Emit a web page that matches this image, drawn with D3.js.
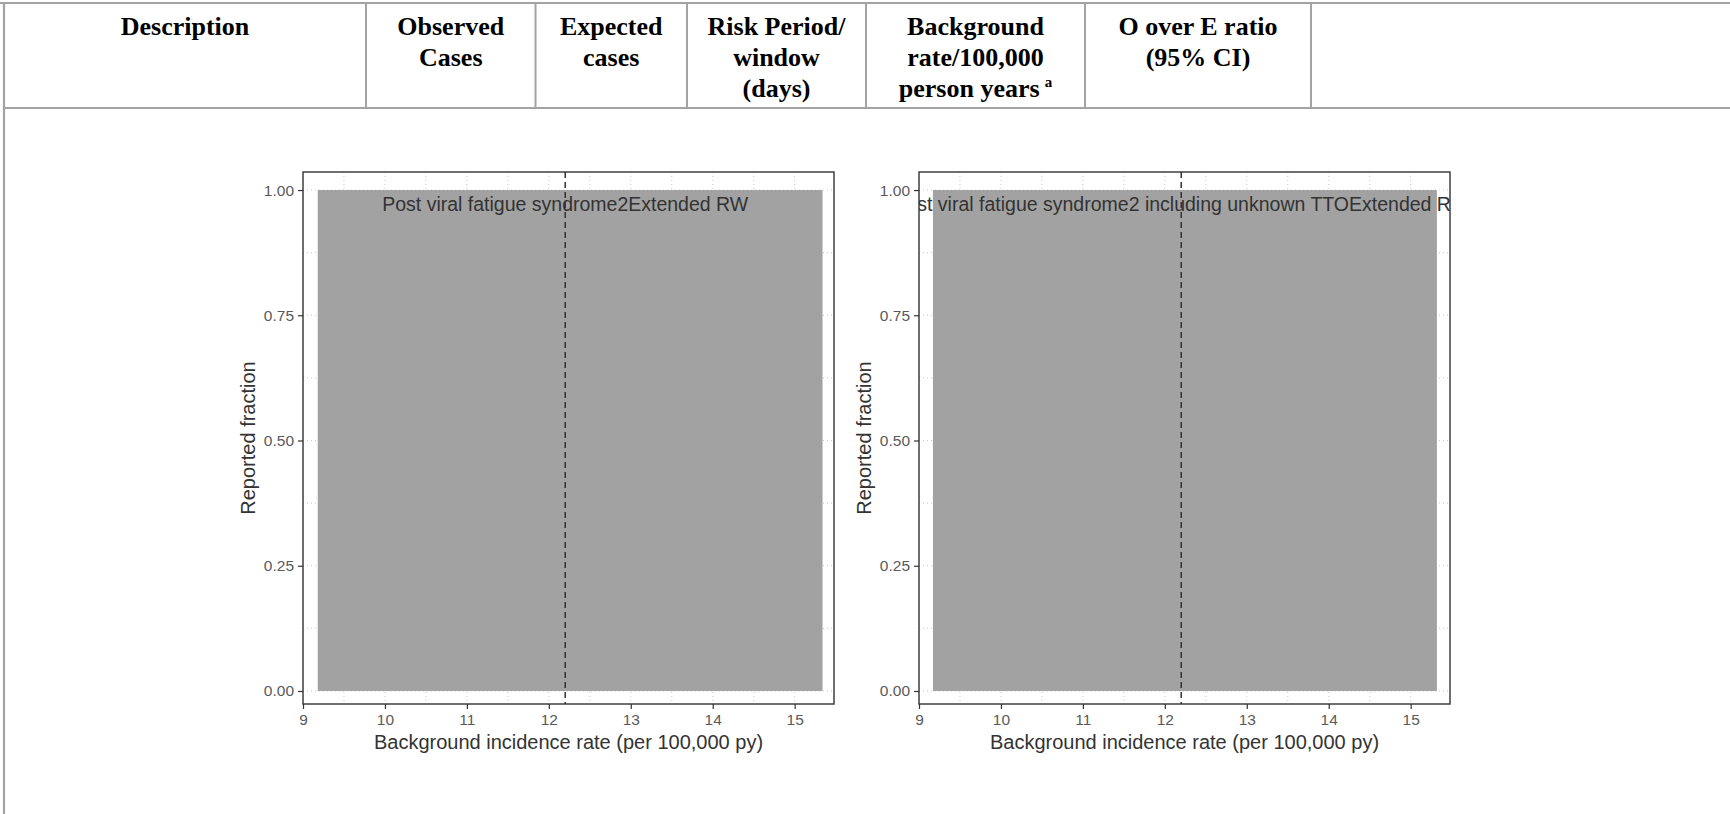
<!DOCTYPE html>
<html>
<head>
<meta charset="utf-8">
<script src="https://cdn.jsdelivr.net/npm/d3@7"></script>
<style>
  html, body { margin: 0; padding: 0; background: #fff; }
  svg { display: block; }
</style>
</head>
<body>
<svg id="chart" width="1730" height="814"></svg>
<script>
// ---- Data ----
const headerColumns = ["Description", "Observed Cases", "Expected cases", "Risk Period/ window (days)", "Background rate/100,000 person years", "O over E ratio (95% CI)", ""];
const headerLines = [
  ["Description"],
  ["Observed", "Cases"],
  ["Expected", "cases"],
  ["Risk Period/", "window", "(days)"],
  ["Background", "rate/100,000", "person years"],
  ["O over E ratio", "(95% CI)"],
  []
];
const panelTitles = ["Post viral fatigue syndrome2Extended RW", "Post viral fatigue syndrome2 including unknown TTOExtended RW"];
const rateMin = [9.18, 9.17];       // background incidence rate range (per 100,000 py)
const rateMax = [15.34, 15.32];
const fractionMin = [0, 0];         // reported fraction range
const fractionMax = [1, 1];
const observedRate = [12.2, 12.2];  // dashed reference line
const xTicks = [9, 10, 11, 12, 13, 14, 15];
const xTickLabels = ["9", "10", "11", "12", "13", "14", "15"];
const yTicks = [0, 0.25, 0.5, 0.75, 1];
const yTickLabels = ["0.00", "0.25", "0.50", "0.75", "1.00"];
const xTitle = "Background incidence rate (per 100,000 py)";
const yTitle = "Reported fraction";

// ---- Layout ----
const svg = d3.select("#chart");
const W = 1730, H = 814;
const colEdges = [4, 366, 535.5, 687, 866, 1085, 1311, 1730];
const tableTop = 3, headerBottom = 108;
const lineColor = "#a3a3a3";

// Table lines
const tbl = svg.append("g");
tbl.append("line").attr("x1", 0).attr("x2", W).attr("y1", tableTop).attr("y2", tableTop)
  .attr("stroke", lineColor).attr("stroke-width", 2.2);
tbl.append("line").attr("x1", colEdges[0]).attr("x2", W).attr("y1", headerBottom).attr("y2", headerBottom)
  .attr("stroke", lineColor).attr("stroke-width", 2.2);
tbl.append("line").attr("x1", colEdges[0]).attr("x2", colEdges[0]).attr("y1", tableTop).attr("y2", H)
  .attr("stroke", lineColor).attr("stroke-width", 2.2);
colEdges.slice(1, 7).forEach(x => {
  tbl.append("line").attr("x1", x).attr("x2", x).attr("y1", tableTop).attr("y2", headerBottom)
    .attr("stroke", lineColor).attr("stroke-width", 2);
});

// Header texts
headerLines.forEach((lines, i) => {
  const cx = (colEdges[i] + colEdges[i + 1]) / 2;
  lines.forEach((ln, j) => {
    const t = tbl.append("text")
      .attr("x", cx).attr("y", 35 + j * 31)
      .attr("text-anchor", "middle")
      .attr("font-family", "'Liberation Serif', 'Times New Roman', serif")
      .attr("font-weight", "bold")
      .attr("font-size", 26)
      .attr("fill", "#000")
      .text(ln);
    if (i === 4 && j === 2) {
      t.append("tspan").attr("dx", 5).attr("dy", -10).attr("font-size", 15).text("a");
    }
  });
});

// ---- Panels ----
const panelLeft = [303, 919];
const panelWidth = 531;
const panelTop = 172, panelBottom = 704;
const y = d3.scaleLinear().domain([-0.026, 1.036]).range([panelBottom, panelTop]);

panelTitles.forEach((title, p) => {
  const x = d3.scaleLinear().domain([9, 15.48]).range([panelLeft[p], panelLeft[p] + panelWidth]);
  const g = svg.append("g");
  const clipId = "clip" + p;
  svg.append("clipPath").attr("id", clipId).append("rect")
    .attr("x", panelLeft[p]).attr("y", panelTop).attr("width", panelWidth).attr("height", panelBottom - panelTop);

  // grid (major + minor), dotted
  const xMinor = d3.range(9.5, 15.5, 1);
  const yMinor = [0.125, 0.375, 0.625, 0.875];
  const grid = g.append("g").attr("clip-path", `url(#${clipId})`);
  xTicks.concat(xMinor).forEach(v => {
    grid.append("line").attr("x1", x(v)).attr("x2", x(v)).attr("y1", panelTop).attr("y2", panelBottom)
      .attr("stroke", "#c8c8c8").attr("stroke-width", 1).attr("stroke-dasharray", "1,3");
  });
  yTicks.concat(yMinor).forEach(v => {
    grid.append("line").attr("x1", panelLeft[p]).attr("x2", panelLeft[p] + panelWidth).attr("y1", y(v)).attr("y2", y(v))
      .attr("stroke", "#c8c8c8").attr("stroke-width", 1).attr("stroke-dasharray", "1,3");
  });

  // filled region
  g.append("rect")
    .attr("x", x(rateMin[p])).attr("y", y(fractionMax[p]))
    .attr("width", x(rateMax[p]) - x(rateMin[p]))
    .attr("height", y(fractionMin[p]) - y(fractionMax[p]))
    .attr("fill", "#a2a2a2");

  // dashed line
  g.append("line").attr("x1", x(observedRate[p])).attr("x2", x(observedRate[p]))
    .attr("y1", panelTop).attr("y2", panelBottom)
    .attr("stroke", "#333").attr("stroke-width", 1.5).attr("stroke-dasharray", "6,4");

  // panel label
  g.append("text").attr("clip-path", `url(#${clipId})`)
    .attr("x", x(observedRate[p])).attr("y", 211)
    .attr("text-anchor", "middle")
    .attr("font-family", "'Liberation Sans', Arial, sans-serif")
    .attr("font-size", 19.5).attr("fill", "#333")
    .text(title);

  // frame
  g.append("rect").attr("x", panelLeft[p]).attr("y", panelTop)
    .attr("width", panelWidth).attr("height", panelBottom - panelTop)
    .attr("fill", "none").attr("stroke", "#333").attr("stroke-width", 1.4);

  // axes
  const xAxis = d3.axisBottom(x).tickValues(xTicks).tickFormat((d, i) => xTickLabels[i]).tickSize(5).tickPadding(5);
  const xa = g.append("g").attr("transform", `translate(0,${panelBottom})`).call(xAxis);
  const yAxis = d3.axisLeft(y).tickValues(yTicks).tickFormat((d, i) => yTickLabels[i]).tickSize(5).tickPadding(4);
  const ya = g.append("g").attr("transform", `translate(${panelLeft[p]},0)`).call(yAxis);
  [xa, ya].forEach(a => {
    a.select(".domain").remove();
    a.selectAll(".tick line").attr("stroke", "#333").attr("stroke-width", 1.2);
    a.selectAll(".tick text").attr("fill", "#5a5a5a")
      .attr("font-family", "'Liberation Sans', Arial, sans-serif").attr("font-size", 15.5);
  });

  // axis titles
  g.append("text").attr("x", panelLeft[p] + panelWidth / 2).attr("y", 749)
    .attr("text-anchor", "middle")
    .attr("font-family", "'Liberation Sans', Arial, sans-serif")
    .attr("font-size", 20).attr("fill", "#333").text(xTitle);
  g.append("text")
    .attr("transform", `translate(${panelLeft[p] - 48},${(panelTop + panelBottom) / 2}) rotate(-90)`)
    .attr("text-anchor", "middle")
    .attr("font-family", "'Liberation Sans', Arial, sans-serif")
    .attr("font-size", 20).attr("fill", "#333").text(yTitle);
});
</script>
</body>
</html>
